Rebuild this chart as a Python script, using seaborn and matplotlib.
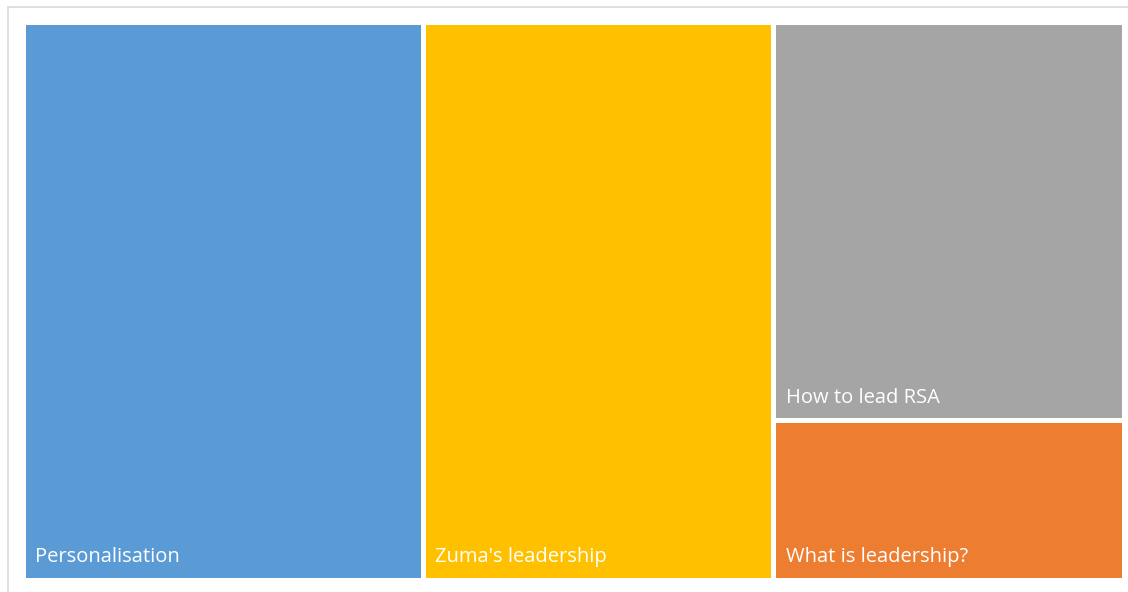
import matplotlib
matplotlib.use("Agg")
import matplotlib.pyplot as plt
from matplotlib.patches import Rectangle
import seaborn as sns

# Treemap data
labels = ["Personalisation", "Zuma's leadership", "How to lead RSA", "What is leadership?"]
values = [40, 35, 25, 10]
colors = ["#5B9BD5", "#FFC000", "#A5A5A5", "#ED7D31"]


def worst(row, side):
    s = sum(row)
    return max(max(side * side * r / (s * s), s * s / (side * side * r)) for r in row)


def squarify(vals, x, y, w, h):
    # vals already scaled so that sum(vals) == w*h
    rects = []
    vals = list(vals)
    while vals:
        side = min(w, h)
        row = [vals.pop(0)]
        while vals and worst(row + [vals[0]], side) <= worst(row, side):
            row.append(vals.pop(0))
        s = sum(row)
        if w >= h:
            # column along the left, stacked top to bottom
            cw = s / h
            cy = y + h
            for r in row:
                rh = r / cw
                rects.append((x, cy - rh, cw, rh))
                cy -= rh
            x += cw
            w -= cw
        else:
            # row along the top, left to right
            rh = s / w
            cx = x
            for r in row:
                rw = r / rh
                rects.append((cx, y + h - rh, rw, rh))
                cx += rw
            h -= rh
    return rects


sns.set_theme(style="white")
plt.rcParams["font.family"] = ["Open Sans", "DejaVu Sans"]

W, H = 1101.0, 558.0
total = sum(values)
scaled = [v * W * H / total for v in values]
rects = squarify(scaled, 0, 0, W, H)

fig = plt.figure(figsize=(11.28, 5.92), dpi=100)
# outer light frame of the chart area
fig.patches.append(Rectangle((8 / 1128, 1 - 7 / 592 - 2), 2, 2, transform=fig.transFigure,
                             fill=False, edgecolor="#d9d9d9", linewidth=1.2))
ax = fig.add_axes([22.5 / 1128, 1 - 579.5 / 592, W / 1128, H / 592])
ax.set_xlim(0, W)
ax.set_ylim(0, H)
ax.axis("off")

for (rx, ry, rw, rh), lab, col in zip(rects, labels, colors):
    ax.add_patch(Rectangle((rx, ry), rw, rh, facecolor=col, edgecolor="white", linewidth=3.6))
    ax.text(rx + 12.5, ry + 17.5, lab, color="white", fontsize=14.5, ha="left", va="baseline")

fig.savefig("out.png", dpi=100)
